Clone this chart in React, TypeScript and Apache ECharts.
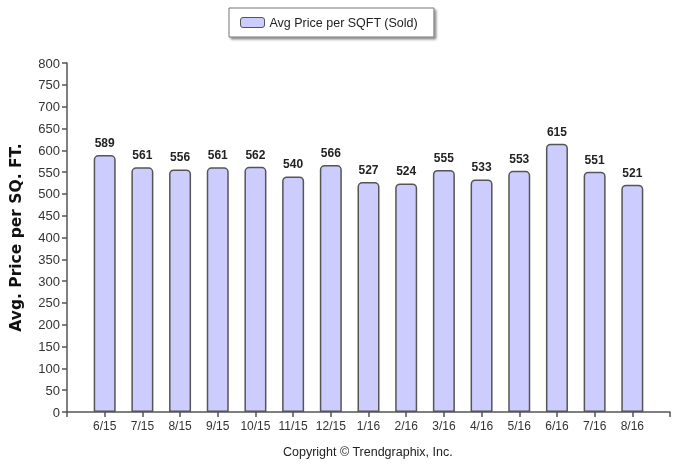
import React, { useEffect, useRef } from "react";
import * as echarts from "echarts";

const categories = ["6/15", "7/15", "8/15", "9/15", "10/15", "11/15", "12/15", "1/16", "2/16", "3/16", "4/16", "5/16", "6/16", "7/16", "8/16"];
const values = [589, 561, 556, 561, 562, 540, 566, 527, 524, 555, 533, 553, 615, 551, 521];
const seriesName = "Avg Price per SQFT (Sold)";
const yAxisTitle = "Avg. Price per SQ. FT.";
const copyright = "Copyright © Trendgraphix, Inc.";

export default function App() {
  const ref = useRef<HTMLDivElement>(null);
  useEffect(() => {
    if (!ref.current) return;
    const chart = echarts.init(ref.current, null, { renderer: "svg" });
    const cats = ["", ...categories, ""];
    const data = [null, ...values, null];
    chart.setOption({
      animation: false,
      textStyle: { fontFamily: "Liberation Sans, Arial, sans-serif" },
      legend: {
        data: [seriesName],
        left: 229,
        top: 8,
        padding: [8, 16, 8, 11],
        itemWidth: 24,
        itemHeight: 10,
        itemGap: 8,
        borderColor: "#777",
        borderWidth: 1,
        backgroundColor: "#fff",
        shadowColor: "rgba(0,0,0,0.45)",
        shadowBlur: 2,
        shadowOffsetX: 2,
        shadowOffsetY: 2,
        textStyle: { fontSize: 12.5, color: "#222" },
        itemStyle: { color: "#ccccff", borderColor: "#555", borderWidth: 1 },
      },
      grid: { left: 67, right: 20, top: 63, bottom: 53, containLabel: false, outerBoundsMode: "none" },
      xAxis: {
        type: "category",
        data: cats,
        boundaryGap: false,
        axisLine: { lineStyle: { color: "#555", width: 1.5 } },
        axisTick: { show: true, length: 5, lineStyle: { color: "#555", width: 1.5 } },
        axisLabel: { color: "#333", fontSize: 12, margin: 8, interval: 0 },
        splitLine: { show: false },
      },
      yAxis: {
        type: "value",
        min: 0,
        max: 800,
        interval: 50,
        name: yAxisTitle,
        nameLocation: "middle",
        nameGap: 43,
        nameTextStyle: { fontSize: 15.5, fontWeight: "bold", color: "#111", fontFamily: "DejaVu Sans, sans-serif" },
        axisLine: { show: true, lineStyle: { color: "#555", width: 1.5 } },
        axisTick: { show: true, length: 5, lineStyle: { color: "#555", width: 1.5 } },
        axisLabel: { color: "#333", fontSize: 13, margin: 7 },
        splitLine: { show: false },
      },
      series: [
        {
          name: seriesName,
          type: "bar",
          data,
          barWidth: 22,
          itemStyle: {
            color: "#ccccff",
            borderColor: "#555",
            borderWidth: 1.5,
            borderRadius: [4, 4, 0, 0],
          },
          label: {
            show: true,
            position: "top",
            distance: 6,
            fontSize: 12,
            fontWeight: "bold",
            color: "#222",
          },
        },
      ],
      graphic: [
        {
          type: "text",
          left: 283,
          top: 445,
          style: { text: copyright, fontSize: 12.5, fill: "#222", fontFamily: "Liberation Sans, Arial, sans-serif" },
        },
      ],
    });
    return () => chart.dispose();
  }, []);
  return <div ref={ref} style={{ width: 690, height: 465, position: "fixed", left: 0, top: 0 }} />;
}
